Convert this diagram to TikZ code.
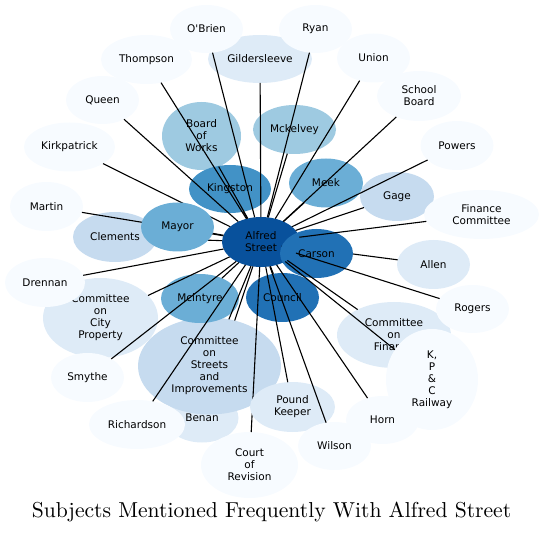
\documentclass[tikz,border=0pt]{standalone}
\usepackage{fontspec}
\usetikzlibrary{shapes.geometric}
\newfontfamily\dejavu{DejaVu Sans}[Ligatures=TeXOff]
\newfontfamily\titlefont{lmroman10-regular}[Extension=.otf]
\definecolor{cA}{HTML}{F7FBFF}
\definecolor{cB}{HTML}{DEEBF7}
\definecolor{cC}{HTML}{C6DBEF}
\definecolor{cD}{HTML}{9ECAE1}
\definecolor{cE}{HTML}{6BAED6}
\definecolor{cF}{HTML}{4292C6}
\definecolor{cG}{HTML}{2171B5}
\definecolor{cH}{HTML}{08519C}
\pgfdeclarelayer{nA}
\pgfdeclarelayer{eA}
\pgfdeclarelayer{nB}
\pgfdeclarelayer{eB}
\pgfdeclarelayer{nC}
\pgfsetlayers{nA,eA,nB,eB,nC,main}
\tikzset{
  bub/.style={ellipse, inner sep=0pt, outer sep=0pt, align=center, text=black,
    font=\dejavu\fontsize{10.5}{12}\selectfont},
  sz/.style 2 args={minimum width=#1pt, minimum height=#2pt},
  link/.style={line width=1.1pt, draw=black}
}
\begin{document}
\begin{tikzpicture}[x=1pt,y=-1pt]
\useasboundingbox (0,0) rectangle (543,534);
\begin{pgfonlayer}{nA}
\node[bub, sz={104}{48}, fill=cB] (gilder) at (260,59) {Gildersleeve};
\node[bub, sz={73}{48}, fill=cA] (obrien) at (206.5,29) {O'Brien};
\node[bub, sz={73}{48}, fill=cA] (ryan) at (315.5,29) {Ryan};
\node[bub, sz={91}{49}, fill=cA] (thompson) at (146.5,59.5) {Thompson};
\node[bub, sz={73}{49}, fill=cA] (union) at (373.5,58) {Union};
\node[bub, sz={73}{48}, fill=cA] (queen) at (102.5,100) {Queen};
\node[bub, sz={84}{50}, fill=cA] (school) at (419,96) {School\\Board};
\node[bub, sz={91}{49}, fill=cA] (kirk) at (69.5,147) {Kirkpatrick};
\node[bub, sz={73}{49}, fill=cA] (powers) at (457,145.5) {Powers};
\node[bub, sz={79}{68}, fill=cD] (bow) at (201.5,136) {Board\\of\\Works};
\node[bub, sz={83}{49}, fill=cD] (mckelvey) at (294.5,129.5) {Mckelvey};
\node[bub, sz={82}{48}, fill=cF] (kingston) at (230,189) {Kingston};
\node[bub, sz={74}{49}, fill=cE] (meek) at (326,183) {Meek};
\node[bub, sz={74}{49}, fill=cC] (gage) at (397,196.5) {Gage};
\node[bub, sz={115}{49}, fill=cA] (fincomm) at (481.5,214.5) {Finance\\Committee};
\node[bub, sz={73}{49}, fill=cA] (martin) at (46.5,206.5) {Martin};
\node[bub, sz={84}{50}, fill=cC] (clements) at (115,237) {Clements};
\node[bub, sz={78}{50}, fill=cH] (alfred) at (261,242) {Alfred\\Street};
\node[bub, sz={73}{49}, fill=cG] (council) at (282.5,297.5) {Council};
\node[bub, sz={73}{49}, fill=cB] (allen) at (433.5,264.5) {Allen};
\node[bub, sz={115}{80}, fill=cB] (cityprop) at (100.5,318) {Committee\\on\\City\\Property};
\node[bub, sz={80}{49}, fill=cA] (drennan) at (45,282.5) {Drennan};
\node[bub, sz={73}{49}, fill=cA] (smythe) at (87.5,377.5) {Smythe};
\node[bub, sz={114}{66}, fill=cB] (finance) at (394,335) {Committee\\on\\Finance};
\node[bub, sz={73}{48}, fill=cA] (rogers) at (472.5,309) {Rogers};
\node[bub, sz={92}{101}, fill=cA] (railway) at (432,379.5) {K,\\P\\\&\\C\\Railway};
\node[bub, sz={73}{48}, fill=cA] (horn) at (382.5,420) {Horn};
\node[bub, sz={73}{49}, fill=cB] (benan) at (202,418) {Benan};
\end{pgfonlayer}
\begin{pgfonlayer}{nB}
\node[bub, sz={73}{49}, fill=cE] (mayor) at (177.5,227) {Mayor};
\node[bub, sz={73}{49}, fill=cG] (carson) at (316.5,253.5) {Carson};
\node[bub, sz={143}{97}, fill=cC] (streets) at (209.5,366) {Committee\\on\\Streets\\and\\Improvements};
\node[bub, sz={78}{49}, fill=cE] (mcintyre) at (200,298.5) {Mcintyre};
\node[bub, sz={96}{49}, fill=cA] (richardson) at (137,424.5) {Richardson};
\node[bub, sz={97}{66}, fill=cA] (court) at (249.5,465) {Court\\of\\Revision};
\end{pgfonlayer}
\begin{pgfonlayer}{nC}
\node[bub, sz={85}{50}, fill=cB] (pound) at (292.5,407) {Pound\\Keeper};
\node[bub, sz={73}{48}, fill=cA] (wilson) at (334.5,446) {Wilson};
\end{pgfonlayer}
\begin{pgfonlayer}{eA}
\foreach \t in {martin,clements,kirk,mayor,allen,benan,carson}
  \draw[link] (alfred) -- (\t);
\end{pgfonlayer}
\begin{pgfonlayer}{eB}
\draw[link] (alfred) -- (court);
\end{pgfonlayer}
\foreach \t in {thompson,obrien,gilder,ryan,union,school,powers,queen,bow,mckelvey,kingston,meek,gage,fincomm,drennan,cityprop,smythe,mcintyre,streets,richardson,council,pound,wilson,horn,railway,finance,rogers}
  \draw[link] (alfred) -- (\t);
\node[font=\titlefont\fontsize{21.6}{24}\selectfont, anchor=base, inner sep=0pt] (title) at (271.5,517) {Subjects Mentioned Frequently With Alfred Street};
\end{tikzpicture}
\end{document}
